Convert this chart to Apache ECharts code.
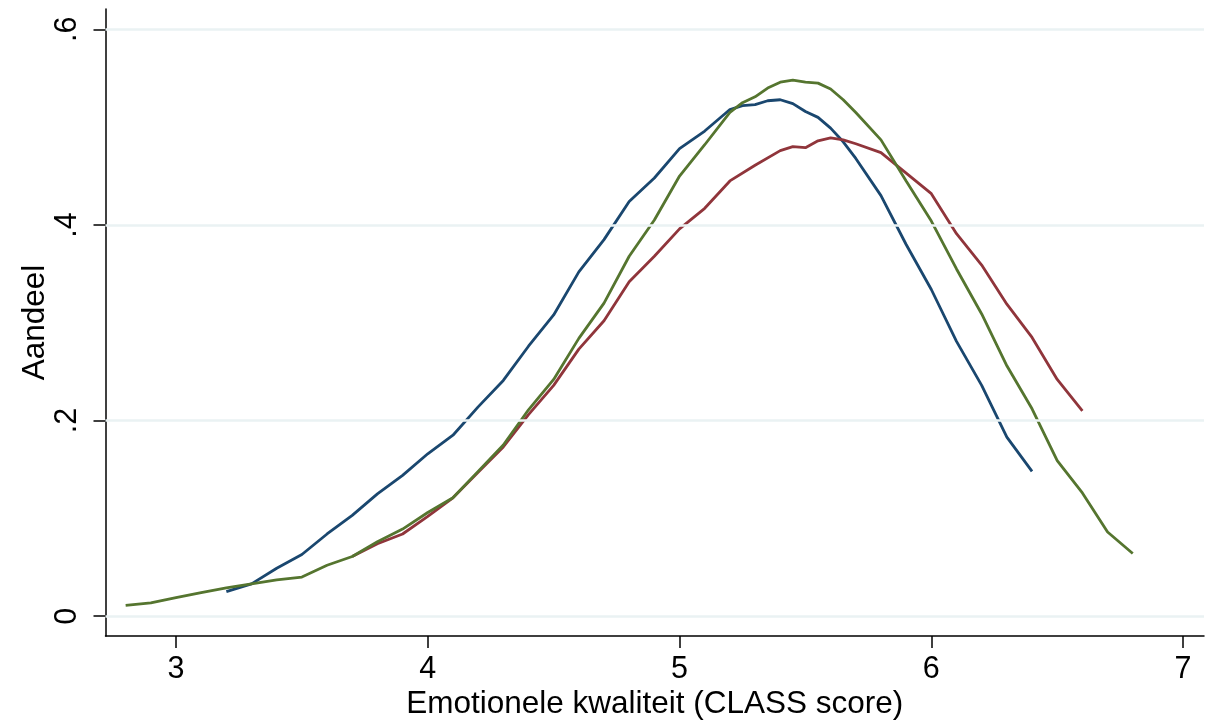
<!DOCTYPE html>
<html>
<head>
<meta charset="utf-8">
<script src="https://cdn.jsdelivr.net/npm/echarts@6/dist/echarts.min.js"></script>
<style>
html,body{margin:0;padding:0;background:#fff;}
#chart{width:1219px;height:725px;}
</style>
</head>
<body>
<div id="chart"></div>
<script>
const xTicks = [3, 4, 5, 6, 7];
const yTicks = [0, 0.2, 0.4, 0.6];

const blueX = [3.2,3.3,3.4,3.5,3.6,3.7,3.8,3.9,4.0,4.1,4.2,4.3,4.4,4.5,4.6,4.7,4.8,4.9,5.0,5.1,5.2,5.25,5.3,5.35,5.4,5.45,5.5,5.55,5.6,5.65,5.7,5.8,5.9,6.0,6.1,6.2,6.3,6.4];
const blueY = [0.025,0.033,0.049,0.063,0.084,0.103,0.125,0.144,0.166,0.185,0.214,0.241,0.276,0.308,0.352,0.385,0.424,0.448,0.478,0.496,0.518,0.522,0.523,0.527,0.528,0.524,0.516,0.510,0.499,0.485,0.468,0.430,0.380,0.334,0.281,0.236,0.183,0.148];

const redX = [3.7,3.8,3.9,4.0,4.1,4.2,4.3,4.4,4.5,4.6,4.7,4.8,4.9,5.0,5.1,5.2,5.3,5.4,5.45,5.5,5.55,5.6,5.65,5.7,5.8,5.9,6.0,6.1,6.2,6.3,6.4,6.5,6.6];
const redY = [0.061,0.074,0.084,0.102,0.121,0.147,0.173,0.206,0.236,0.273,0.302,0.342,0.368,0.396,0.417,0.445,0.461,0.476,0.480,0.479,0.486,0.489,0.487,0.483,0.474,0.453,0.432,0.391,0.359,0.319,0.285,0.242,0.210];

const greenX = [2.8,2.9,3.0,3.1,3.2,3.3,3.4,3.5,3.6,3.7,3.8,3.9,4.0,4.1,4.2,4.3,4.4,4.5,4.6,4.7,4.8,4.9,5.0,5.1,5.2,5.25,5.3,5.35,5.4,5.45,5.5,5.55,5.6,5.65,5.7,5.8,5.9,6.0,6.1,6.2,6.3,6.4,6.5,6.6,6.7,6.8];
const greenY = [0.011,0.0135,0.019,0.024,0.029,0.033,0.037,0.040,0.052,0.061,0.076,0.089,0.106,0.121,0.148,0.175,0.211,0.242,0.284,0.320,0.368,0.405,0.450,0.482,0.515,0.525,0.531,0.540,0.546,0.548,0.546,0.545,0.539,0.528,0.515,0.487,0.445,0.404,0.355,0.309,0.256,0.212,0.159,0.126,0.086,0.064];

const xTitle = 'Emotionele kwaliteit (CLASS score)';
const yTitle = 'Aandeel';

function pairs(xs, ys){ return xs.map((x,i)=>[x, ys[i]]); }
function fmtY(v){ if (Math.abs(v) < 1e-9) return '0'; return String(+v.toFixed(1)).replace(/^0\./,'.'); }

const FONT = 'Liberation Sans, Arial, sans-serif';
const chart = echarts.init(document.getElementById('chart'), null, {renderer:'canvas'});
chart.setOption({
  animation: false,
  backgroundColor: '#ffffff',
  grid: {left: 105.5, right: 15, top: 9, bottom: 85, containLabel: false},
  xAxis: {
    type: 'value', min: 2.72, max: 7.083,
    name: xTitle, nameLocation: 'middle', nameGap: 52, nameMoveOverlap: false,
    nameTextStyle: {fontFamily: FONT, fontSize: 31.5, color: '#000'},
    axisLine: {show: true, onZero: false, lineStyle: {color: '#000', width: 1.5}},
    axisTick: {show: true, length: 12, customValues: xTicks, lineStyle: {color: '#000', width: 1.5}},
    axisLabel: {customValues: xTicks, fontFamily: FONT, fontSize: 30.5, color: '#000', margin: 18},
    splitLine: {show: false}
  },
  yAxis: {
    type: 'value', min: -0.0203, max: 0.6208,
    name: yTitle, nameLocation: 'middle', nameGap: 54, nameRotate: 90, nameMoveOverlap: false,
    nameTextStyle: {fontFamily: FONT, fontSize: 31.5, color: '#000'},
    axisLine: {show: true, onZero: false, lineStyle: {color: '#000', width: 1.5}},
    axisTick: {show: true, length: 12, customValues: yTicks, lineStyle: {color: '#000', width: 1.5}},
    axisLabel: {customValues: yTicks, rotate: 90, fontFamily: FONT, fontSize: 30.5, color: '#000', margin: 22, formatter: fmtY},
    splitLine: {show: false}
  },
  series: [
    {
      type: 'line', data: [], z: 1, silent: true,
      markLine: {
        silent: true, symbol: ['none','none'], label: {show: false},
        lineStyle: {color: '#eaf2f3', width: 2.5, type: 'solid'},
        data: yTicks.map(v => ({yAxis: v}))
      }
    },
    {type: 'line', data: pairs(blueX, blueY), showSymbol: false, symbol: 'none', z: 3,
     lineStyle: {color: '#1a476f', width: 2.8}, itemStyle: {color: '#1a476f'}},
    {type: 'line', data: pairs(redX, redY), showSymbol: false, symbol: 'none', z: 3,
     lineStyle: {color: '#90353b', width: 2.8}, itemStyle: {color: '#90353b'}},
    {type: 'line', data: pairs(greenX, greenY), showSymbol: false, symbol: 'none', z: 3,
     lineStyle: {color: '#55752f', width: 2.8}, itemStyle: {color: '#55752f'}}
  ]
});
</script>
</body>
</html>
